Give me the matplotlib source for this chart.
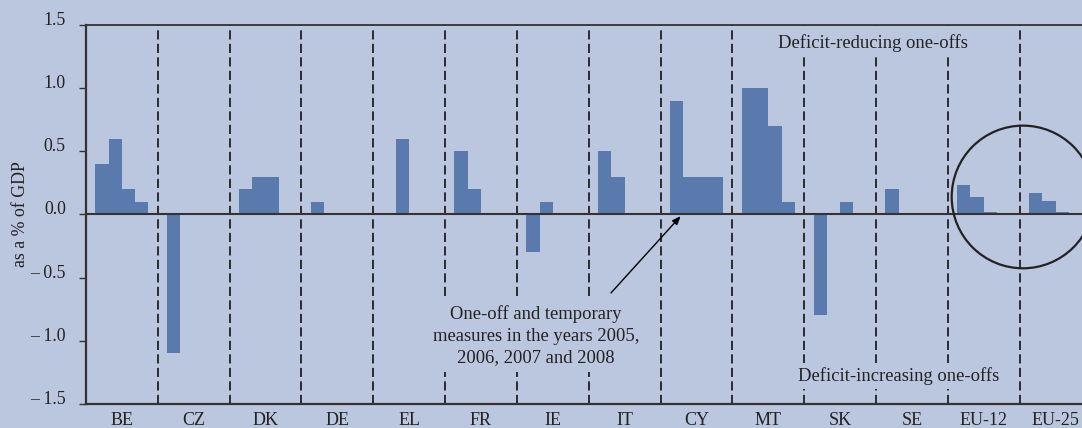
import matplotlib
matplotlib.use("Agg")
import matplotlib.pyplot as plt
from matplotlib.patches import Ellipse
import numpy as np

countries = ["BE", "CZ", "DK", "DE", "EL", "FR", "IE", "IT", "CY", "MT", "SK", "SE", "EU-12", "EU-25"]
v2005 = [0.4, -1.1, 0.2, 0.1, 0.0, 0.5, -0.3, 0.5, 0.9, 1.0, -0.8, 0.2, 0.23, 0.17]
v2006 = [0.6, 0.0, 0.3, 0.0, 0.6, 0.2, 0.1, 0.3, 0.3, 1.0, 0.0, 0.0, 0.14, 0.11]
v2007 = [0.2, 0.0, 0.3, 0.0, 0.0, 0.0, 0.0, 0.0, 0.3, 0.7, 0.1, 0.0, 0.02, 0.02]
v2008 = [0.1, 0.0, 0.0, 0.0, 0.0, 0.0, 0.0, 0.0, 0.3, 0.1, 0.0, 0.0, 0.0, 0.0]
series = [v2005, v2006, v2007, v2008]
yticks = [-1.5, -1.0, -0.5, 0.0, 0.5, 1.0, 1.5]
ytick_labels = ["\u2013 1.5", "\u2013 1.0", "\u2013 0.5", "0.0", "0.5", "1.0", "1.5"]

BG = "#bbc6df"
BAR = "#5a79ad"
plt.rcParams["font.family"] = ["Liberation Serif", "DejaVu Serif"]

fig = plt.figure(figsize=(10.82, 4.28), dpi=100, facecolor=BG)
ax = fig.add_axes([0.0794, 0.0568, 0.9294, 0.8841])
ax.set_facecolor(BG)

x = np.arange(len(countries))
w = 0.185
for k, vals in enumerate(series):
    ax.bar(x + (k - 1.5) * w, vals, width=w, color=BAR, linewidth=0, zorder=2)

for i in range(len(countries) - 1):
    ax.axvline(i + 0.5, color="#111111", lw=1.2, linestyle=(0, (5.5, 2.6)), zorder=1)

ax.axhline(0, color="#333333", lw=1.5, zorder=3)

ax.set_xlim(-0.5, len(countries) - 0.5)
ax.set_ylim(-1.5, 1.5)
ax.set_xticks(x)
ax.set_xticklabels(countries, fontsize=13, color="#222222")
ax.tick_params(axis="x", length=0, pad=6)
ax.set_yticks(yticks)
ax.set_yticklabels(ytick_labels, fontsize=12.8, color="#222222")
ax.tick_params(axis="y", direction="out", length=5, width=1, pad=9.5, color="#333333")
for lab in ax.get_yticklabels():
    lab.set_verticalalignment("baseline")
ax.set_ylabel("as a % of GDP", fontsize=12.8, color="#222222", labelpad=1)

for s in ["left", "bottom"]:
    ax.spines[s].set_linewidth(1.6)
    ax.spines[s].set_color("#333333")
ax.spines["top"].set_linewidth(1.3)
ax.spines["top"].set_color("#333333")
ax.spines["right"].set_visible(False)

box = dict(facecolor=BG, edgecolor="none", pad=3)
ax.text(10.45, 1.36, "Deficit-reducing one-offs", fontsize=13.4, color="#222222",
        ha="center", va="center", bbox=box, zorder=4)
ax.text(10.82, -1.278, "Deficit-increasing one-offs", fontsize=13.4, color="#222222",
        ha="center", va="center", bbox=box, zorder=4)
ax.text(5.77, -0.962, "One-off and temporary\nmeasures in the years 2005,\n2006, 2007 and 2008",
        fontsize=13.4, color="#222222", ha="center", va="center", linespacing=1.35,
        multialignment="center", bbox=dict(facecolor=BG, edgecolor="none", pad=4), zorder=4)
ax.annotate("", xy=(7.78, -0.013), xytext=(6.81, -0.622),
            arrowprops=dict(arrowstyle="-|>,head_length=0.5,head_width=0.2",
                            color="black", lw=1.0, shrinkA=0, shrinkB=0), zorder=5)

circ = Ellipse((12.546, 0.139), width=1.985, height=1.131, fill=False,
               edgecolor="#222222", lw=1.6, zorder=5, clip_on=False)
ax.add_patch(circ)

fig.savefig("out.png", dpi=100, facecolor=BG)
